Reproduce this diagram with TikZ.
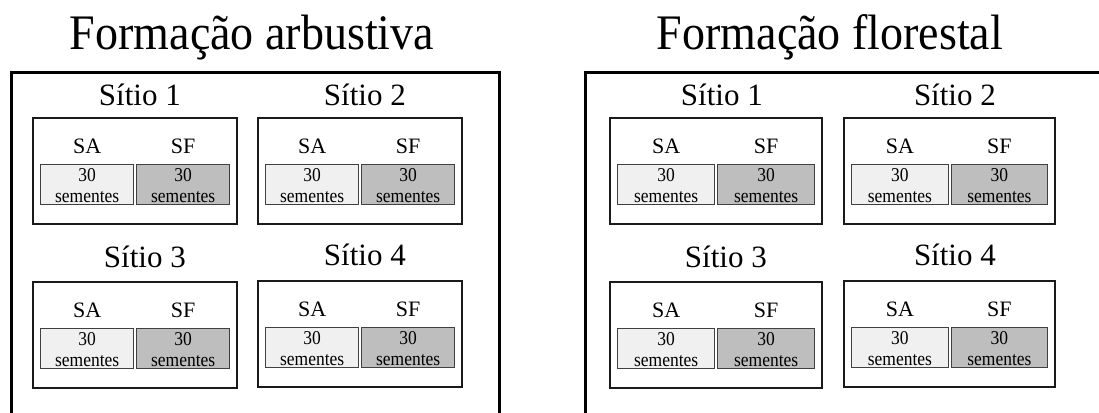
\documentclass[tikz,border=0pt]{standalone}
\usepackage{fontspec}
\setmainfont{Liberation Serif}
\usetikzlibrary{calc}
\definecolor{saFill}{HTML}{F0F0F0}
\definecolor{sfFill}{HTML}{BEBEBE}
\definecolor{seedLine}{HTML}{404040}
\definecolor{siteLine}{HTML}{1A1A1A}
\newcommand\tallA[1]{\scalebox{1}[1.08]{#1}}
\newcommand\tallB[1]{\scalebox{1}[1.12]{#1}}
\tikzset{
  outerline/.style={line width=3pt, black},
  sitebox/.style={draw=siteLine, line width=1.8pt, minimum height=106pt, anchor=north west, inner sep=0pt},
  seedA/.style={draw=seedLine, fill=saFill, line width=1.3pt, minimum height=40pt, anchor=north west, inner sep=0pt},
  seedF/.style={seedA, fill=sfFill},
  ftitle/.style={font=\fontsize{46}{50}\selectfont, anchor=base, inner sep=0pt},
  stitle/.style={font=\fontsize{31}{34}\selectfont, anchor=base, inner sep=0pt},
  slabel/.style={font=\fontsize{22}{24}\selectfont, anchor=base, inner sep=0pt},
  stext/.style={font=\fontsize{17.5}{20}\selectfont, anchor=base, inner sep=0pt},
}
% #1 name, #2 x left, #3 y top, #4 width, #5 title, #6 title dx, #7 title rise
\newcommand\sitio[7]{%
  \pgfmathsetmacro\bw{(#4-18)/2}%
  \node[sitebox, minimum width=#4pt] (#1) at (#2,#3) {};
  \node[stitle] (#1t) at ($(#1.north)+(#6,-#7)$) {#5};
  \node[seedA, minimum width=\bw pt] (#1a) at ({#2+8},{#3+47}) {};
  \node[seedF, minimum width=\bw pt] (#1f) at ({#2+11+\bw},{#3+47}) {};
  \node[slabel] (#1al) at ($(#1a.north)+(0,-11)$) {SA};
  \node[slabel] (#1fl) at ($(#1f.north)+(0,-11)$) {SF};
  \node[stext] (#1an) at ($(#1a.north)+(0,17)$) {\tallB{30}};
  \node[stext] (#1as) at ($(#1a.north)+(0,38.5)$) {\tallB{sementes}};
  \node[stext] (#1fn) at ($(#1f.north)+(0,17)$) {\tallB{30}};
  \node[stext] (#1fs) at ($(#1f.north)+(0,38.5)$) {\tallB{sementes}};
}
\begin{document}
\begin{tikzpicture}[x=1pt, y=-1pt]
  \useasboundingbox (0,0) rectangle (1099,412);
  \clip (0,0) rectangle (1099,412);
  \fill[white] (0,0) rectangle (1099,412);
  % panel titles
  \node[ftitle] (tA) at (252,49) {\tallA{Formação arbustiva}};
  \node[ftitle] (tF) at (830,49) {\tallA{Formação florestal}};
  % outer open frames
  \draw[outerline] (11,420) -- (11,72) -- (499,72) -- (499,420);
  \draw[outerline] (585,420) -- (585,72) -- (1110,72);
  % left panel
  \sitio{a1}{32}{117}{204}{Sítio 1}{5}{12}
  \sitio{a2}{257}{117}{204}{Sítio 2}{5}{12}
  \sitio{a3}{32}{281}{204}{Sítio 3}{10}{14}
  \sitio{a4}{257}{280}{204}{Sítio 4}{5}{15}
  % right panel
  \sitio{f1}{609}{117}{212}{Sítio 1}{6}{12}
  \sitio{f2}{843}{117}{211}{Sítio 2}{5.5}{12}
  \sitio{f3}{609}{281}{212}{Sítio 3}{10}{14}
  \sitio{f4}{843}{280}{211}{Sítio 4}{5.5}{15}
\end{tikzpicture}
\end{document}
